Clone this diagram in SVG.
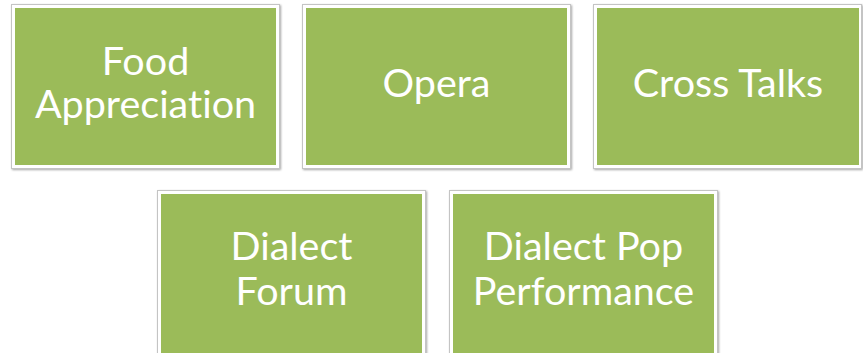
<svg xmlns="http://www.w3.org/2000/svg" width="863" height="353" viewBox="0 0 863 353">
<defs>
<filter id="sh" x="-5%" y="-5%" width="110%" height="110%">
<feGaussianBlur in="SourceAlpha" stdDeviation="1.2"/>
<feOffset dx="0.5" dy="1" result="b"/>
<feComponentTransfer><feFuncA type="linear" slope="0.35"/></feComponentTransfer>
<feMerge><feMergeNode/><feMergeNode in="SourceGraphic"/></feMerge>
</filter>
</defs>
<style>
.frame{fill:#ffffff;stroke:#c4c4c4;stroke-width:1;filter:url(#sh)}
.box{fill:#9bbb59}
.t{font-family:Lato,"Liberation Sans",sans-serif;font-size:39.5px;fill:#ffffff;text-anchor:middle;font-variant-ligatures:none;font-feature-settings:"liga" 0}
</style>
<rect width="863" height="353" fill="#ffffff"/>
<g id="connectors"/>
<g id="food">
<rect class="frame" x="11.5" y="4.5" width="268" height="164"/>
<rect class="box" x="15" y="8" width="261" height="157"/>
<text class="t" x="145.5" y="75">Food</text>
<text class="t" x="145.5" y="118">Appreciation</text>
</g>
<g id="opera">
<rect class="frame" x="302.5" y="4.5" width="268" height="164"/>
<rect class="box" x="306" y="8" width="261" height="157"/>
<text class="t" x="436.5" y="97">Opera</text>
</g>
<g id="cross">
<rect class="frame" x="593.5" y="4.5" width="268" height="164"/>
<rect class="box" x="597" y="8" width="262" height="157"/>
<text class="t" x="728" y="97">Cross Talks</text>
</g>
<g id="forum">
<rect class="frame" x="157.5" y="190.5" width="268" height="175"/>
<rect class="box" x="161" y="194" width="261" height="170"/>
<text class="t" x="291.5" y="260">Dialect</text>
<text class="t" x="291.5" y="305">Forum</text>
</g>
<g id="pop">
<rect class="frame" x="449.5" y="190.5" width="268" height="175"/>
<rect class="box" x="453" y="194" width="261" height="170"/>
<text class="t" x="583.5" y="260">Dialect Pop</text>
<text class="t" x="583.5" y="305">Performance</text>
</g>
</svg>
